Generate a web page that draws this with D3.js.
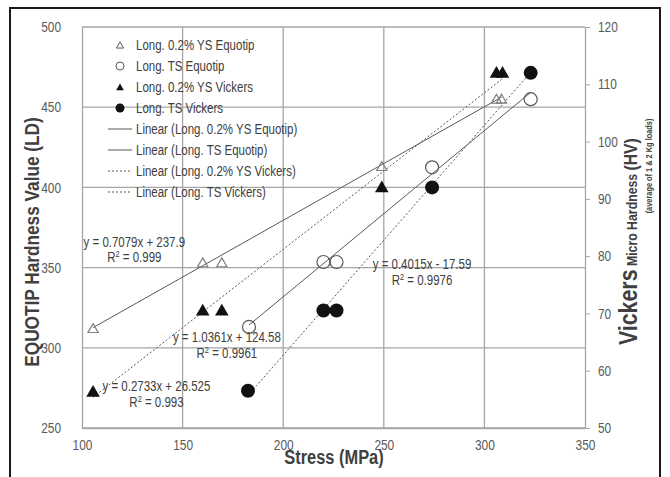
<!DOCTYPE html>
<html>
<head>
<meta charset="utf-8">
<script src="https://cdn.jsdelivr.net/npm/d3@7"></script>
<style>
  body { margin: 0; background: #fff; }
  svg text { font-family: 'Liberation Sans', Arial, sans-serif; }
</style>
</head>
<body>
<div id="chart"></div>
<script>
// stress (MPa) values and hardness readings
const ysEquotipX = [105.5, 160, 169.5, 249, 306, 308.5];
const ysEquotipLD = [312, 353, 353, 413, 455, 455];
const tsEquotipX = [183, 220, 226.5, 274, 323];
const tsEquotipLD = [313, 353.5, 353.5, 412.5, 455];
const ysVickersX = [105.5, 160, 169.5, 249, 306, 309];
const ysVickersHV = [56.3, 70.5, 70.5, 92, 112, 112];
const tsVickersX = [182.5, 220, 226.5, 274, 323];
const tsVickersHV = [56.5, 70.5, 70.5, 92, 112];

// trendline coefficients (slope, intercept) as printed
const trendSlopes = [0.7079, 1.0361, 0.2733, 0.4015];
const trendIntercepts = [237.9, 124.58, 26.525, -17.59];
const trendR2 = ["0.999", "0.9961", "0.993", "0.9976"];

const xTicks = [100, 150, 200, 250, 300, 350];
const ldTicks = [250, 300, 350, 400, 450, 500];
const hvTicks = [50, 60, 70, 80, 90, 100, 110, 120];

const legendLabels = [
  "Long. 0.2% YS Equotip", "Long. TS Equotip", "Long. 0.2% YS Vickers", "Long. TS Vickers",
  "Linear (Long. 0.2% YS Equotip)", "Linear (Long. TS Equotip)",
  "Linear (Long. 0.2% YS Vickers)", "Linear (Long. TS Vickers)"
];

const width = 670, height = 477;
const margin = { top: 27, right: 85, bottom: 49, left: 82 };
const narrow = 0.82; // the source text is a narrow face

const svg = d3.select("#chart").append("svg")
  .attr("width", width).attr("height", height);

// outer frame
svg.append("rect")
  .attr("x", 10).attr("y", 8).attr("width", 650).attr("height", 490)
  .attr("fill", "none").attr("stroke", "#1a1a1a").attr("stroke-width", 2);

const x = d3.scaleLinear().domain([100, 350]).range([margin.left, width - margin.right]);
const yL = d3.scaleLinear().domain([250, 500]).range([height - margin.bottom, margin.top]);
const yR = d3.scaleLinear().domain([50, 120]).range([height - margin.bottom, margin.top]);

const gridColor = "#a6a6a6";

// gridlines
svg.append("g").selectAll("line")
  .data(ldTicks)
  .join("line")
  .attr("x1", x(100)).attr("x2", x(350))
  .attr("y1", d => yL(d)).attr("y2", d => yL(d))
  .attr("stroke", gridColor).attr("stroke-width", 1.3);
svg.append("g").selectAll("line")
  .data(xTicks.slice(1, -1))
  .join("line")
  .attr("x1", d => x(d)).attr("x2", d => x(d))
  .attr("y1", yL(250)).attr("y2", yL(500))
  .attr("stroke", gridColor).attr("stroke-width", 1.3);

// axes
const axisStyle = g => {
  g.select(".domain").attr("stroke", gridColor).attr("stroke-width", 1.3);
  g.selectAll(".tick line").attr("stroke", gridColor);
  g.selectAll(".tick text").attr("fill", "#595959").style("font-size", "14.5px")
    .style("font-family", "'Liberation Sans', Arial, sans-serif");
};

svg.append("g")
  .attr("transform", `translate(0,${yL(250)})`)
  .call(d3.axisBottom(x).tickValues(xTicks).tickSize(0).tickPadding(12))
  .call(axisStyle);
svg.append("g")
  .attr("transform", `translate(${x(100)},0)`)
  .call(d3.axisLeft(yL).tickValues(ldTicks).tickSize(0).tickPadding(21))
  .call(axisStyle);
svg.append("g")
  .attr("transform", `translate(${x(350)},0)`)
  .call(d3.axisRight(yR).tickValues(hvTicks).tickSize(5).tickPadding(8).tickSizeOuter(0))
  .call(axisStyle);

// axis titles
svg.append("text")
  .attr("x", 334).attr("y", 464)
  .attr("text-anchor", "middle")
  .style("font-size", "20px").style("font-weight", "bold").attr("fill", "#404040")
  .text("Stress (MPa)");

svg.append("text")
  .attr("transform", "translate(39,242) rotate(-90)")
  .attr("text-anchor", "middle")
  .style("font-size", "21px").style("font-weight", "bold").attr("fill", "#404040")
  .text("EQUOTIP Hardness Value (LD)");

const rTitle = svg.append("text")
  .attr("transform", "translate(637,345) rotate(-90)")
  .attr("fill", "#404040");
rTitle.append("tspan").style("font-size", "26px").style("font-weight", "bold").text("Vickers");
rTitle.append("tspan").style("font-size", "15px").style("font-weight", "bold").text(" Micro Hardness ");
rTitle.append("tspan").style("font-size", "19px").style("font-weight", "bold").text("(HV)");

svg.append("text")
  .attr("transform", "translate(652,166) rotate(-90)")
  .attr("text-anchor", "middle")
  .style("font-size", "9px").style("font-weight", "bold").attr("fill", "#404040")
  .text("(average of 1 & 2 Kg loads)");

// trendlines
const trendSeries = [
  { xs: ysEquotipX, y: yL, dash: null },
  { xs: tsEquotipX, y: yL, dash: null },
  { xs: ysVickersX, y: yR, dash: "2,2" },
  { xs: tsVickersX, y: yR, dash: "2,2" }
];
trendSeries.forEach((s, i) => {
  const [x0, x1] = d3.extent(s.xs);
  const f = v => trendSlopes[i] * v + trendIntercepts[i];
  svg.append("line")
    .attr("x1", x(x0)).attr("y1", s.y(f(x0)))
    .attr("x2", x(x1)).attr("y2", s.y(f(x1)))
    .attr("stroke", "#595959").attr("stroke-width", 1)
    .attr("stroke-dasharray", s.dash);
});

// markers
const triOpen = d3.symbol().type(d3.symbolTriangle).size(45);
const triFilled = d3.symbol().type(d3.symbolTriangle).size(80);

svg.append("g").selectAll("path")
  .data(d3.zip(ysEquotipX, ysEquotipLD))
  .join("path")
  .attr("transform", d => `translate(${x(d[0])},${yL(d[1]) + 1})`)
  .attr("d", triOpen)
  .attr("fill", "none").attr("stroke", "#7f7f7f").attr("stroke-width", 1.2);

svg.append("g").selectAll("circle")
  .data(d3.zip(tsEquotipX, tsEquotipLD))
  .join("circle")
  .attr("cx", d => x(d[0])).attr("cy", d => yL(d[1]))
  .attr("r", 6.5)
  .attr("fill", "none").attr("stroke", "#595959").attr("stroke-width", 1.2);

svg.append("g").selectAll("path")
  .data(d3.zip(ysVickersX, ysVickersHV))
  .join("path")
  .attr("transform", d => `translate(${x(d[0])},${yR(d[1]) + 1})`)
  .attr("d", triFilled)
  .attr("fill", "#111");

svg.append("g").selectAll("circle")
  .data(d3.zip(tsVickersX, tsVickersHV))
  .join("circle")
  .attr("cx", d => x(d[0])).attr("cy", d => yR(d[1]))
  .attr("r", 7)
  .attr("fill", "#111");

// equation labels, anchored in data units
const eqPosX = [126, 172, 137, 269];
const eqPosY = [363, 303.5, 273, 349];
trendSlopes.forEach((m, i) => {
  const b = trendIntercepts[i];
  const eq = `y = ${m}x ${b < 0 ? "-" : "+"} ${Math.abs(b)}`;
  svg.append("text")
    .attr("x", x(eqPosX[i])).attr("y", yL(eqPosY[i]))
    .attr("text-anchor", "middle")
    .style("font-size", "14px").attr("fill", "#404040")
    .text(eq);
  const r = svg.append("text")
    .attr("x", x(eqPosX[i])).attr("y", yL(eqPosY[i]) + 15.5)
    .attr("text-anchor", "middle")
    .style("font-size", "14px").attr("fill", "#404040");
  r.append("tspan").text("R");
  r.append("tspan").attr("dy", -5).style("font-size", "9px").text("2");
  r.append("tspan").attr("dy", 5).text(` = ${trendR2[i]}`);
});

// legend
const legend = svg.append("g").attr("transform", "translate(120,45)");
legendLabels.forEach((label, i) => {
  const row = legend.append("g").attr("transform", `translate(0,${i * 21})`);
  if (i === 0) row.append("path").attr("d", d3.symbol().type(d3.symbolTriangle).size(22))
    .attr("fill", "none").attr("stroke", "#595959").attr("transform", "translate(0,1)");
  if (i === 1) row.append("circle").attr("r", 4).attr("fill", "none").attr("stroke", "#595959");
  if (i === 2) row.append("path").attr("d", d3.symbol().type(d3.symbolTriangle).size(26))
    .attr("fill", "#111").attr("transform", "translate(0,1)");
  if (i === 3) row.append("circle").attr("r", 4.5).attr("fill", "#111");
  if (i >= 4) row.append("line").attr("x1", -12).attr("x2", 12)
    .attr("stroke", "#595959").attr("stroke-width", 1)
    .attr("stroke-dasharray", i >= 6 ? "2,2" : null);
  row.append("text")
    .attr("x", 16).attr("dy", "0.35em")
    .style("font-size", "14px").attr("fill", "#404040")
    .text(label);
});

// squeeze every text to a narrow width
svg.selectAll("text").each(function () {
  const len = this.getComputedTextLength();
  d3.select(this).attr("textLength", len * narrow).attr("lengthAdjust", "spacingAndGlyphs");
});
</script>
</body>
</html>
